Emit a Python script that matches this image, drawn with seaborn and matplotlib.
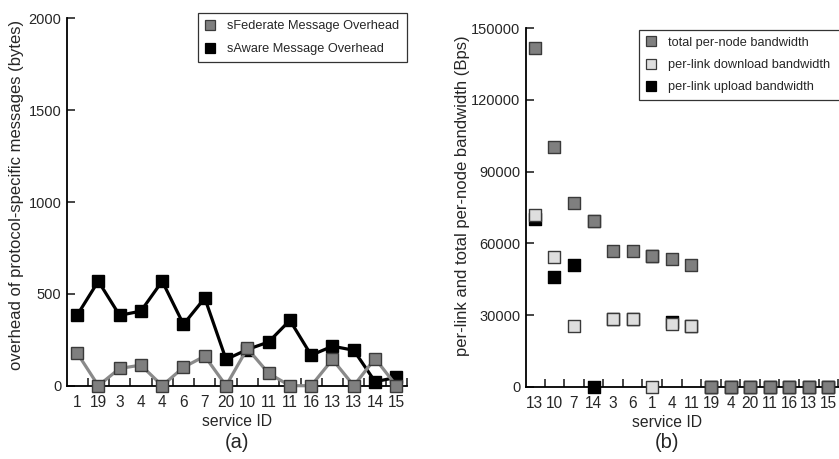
import numpy as np
import pandas as pd
import matplotlib
matplotlib.use("Agg")
import matplotlib.pyplot as plt
from matplotlib.lines import Line2D
import seaborn as sns

# (a) per-service protocol message overhead, bytes
ids_a = ["1", "19", "3", "4", "4", "6", "7", "20", "10", "11", "11", "16", "13", "13", "14", "15"]
sfederate = [179, 0, 94, 112, 0, 100, 161, 0, 203, 67, 0, 0, 143, 0, 148, 0]
saware = [383, 569, 383, 406, 569, 334, 477, 143, 197, 238, 356, 166, 215, 193, 22, 45]

# (b) bandwidth per service, Bps
ids_b = ["13", "10", "7", "14", "3", "6", "1", "4", "11", "19", "4", "20", "11", "16", "13", "15"]
total_bw = [141800, 100400, 76700, 69500, 56900, 56900, 54800, 53300, 50800, 0, 0, 0, 0, 0, 0, 0]
download_bw = [71700, 54100, 25500, 69500, 28500, 28500, 0, 26400, 25400, 0, 0, 0, 0, 0, 0, 0]
upload_bw = [70000, 46000, 50900, 0, 28400, 28400, 54800, 26900, 25400, 0, 0, 0, 0, 0, 0, 0]

sns.set_style("ticks")
plt.rcParams["font.family"] = ["Liberation Sans", "DejaVu Sans"]

GRAY = "#7f7f7f"
GRAY_LINE = "#8a8a8a"
LIGHT = "#dedede"
EDGE = "#3a3a3a"
XTICK_FS = 11.2
YTICK_FS = 10.5
LABEL_FS = 11.3
YLABEL_FS = 12

fig = plt.figure(figsize=(8.39, 4.59), dpi=100)
ax_a = fig.add_axes([0.0799, 0.1597, 0.4052, 0.8004])
ax_b = fig.add_axes([0.6270, 0.1575, 0.3766, 0.7808])


def style_axis(ax, n):
    for side in ("top", "right"):
        ax.spines[side].set_visible(False)
    for side in ("left", "bottom"):
        ax.spines[side].set_linewidth(1.3)
        ax.spines[side].set_color("black")
    ax.set_xticks(np.arange(n))
    ax.set_xticks(np.arange(n) + 0.5, minor=True)
    ax.tick_params(axis="x", which="major", length=0, pad=7, labelsize=XTICK_FS)
    ax.tick_params(axis="x", which="minor", direction="in", length=6, width=1.2)
    ax.tick_params(axis="y", direction="in", length=6, width=1.2, pad=4, labelsize=YTICK_FS)


def square_handle(face, edge):
    return Line2D([], [], linestyle="none", marker="s", markersize=7, markerfacecolor=face,
                  markeredgecolor=edge, markeredgewidth=0.9)


def boxed_legend(ax, handles, labels, anchor, spacing):
    leg = ax.legend(handles, labels, loc="upper left", bbox_to_anchor=anchor, mode="expand",
                    fontsize=9.2, frameon=True, fancybox=False, borderpad=0.55,
                    labelspacing=spacing, handlelength=0.8, handletextpad=0.9,
                    borderaxespad=0)
    leg.get_frame().set_edgecolor("black")
    leg.get_frame().set_linewidth(0.9)
    return leg


# ---- panel (a): line plot with square markers ----
df_a = pd.DataFrame({"pos": np.arange(len(ids_a)), "sAware": saware, "sFederate": sfederate})
sns.lineplot(data=df_a, x="pos", y="sAware", ax=ax_a, color="black", linewidth=2.3,
             marker="s", markersize=8.5, markerfacecolor="black", markeredgecolor="black",
             markeredgewidth=1.0, clip_on=False, zorder=3)
sns.lineplot(data=df_a, x="pos", y="sFederate", ax=ax_a, color=GRAY_LINE, linewidth=2.3,
             marker="s", markersize=8.5, markerfacecolor=GRAY, markeredgecolor=EDGE,
             markeredgewidth=1.0, clip_on=False, zorder=4)
style_axis(ax_a, len(ids_a))
ax_a.set_xticklabels(ids_a)
ax_a.set_xlim(-0.47, 15.5)
ax_a.set_ylim(0, 2000)
ax_a.set_yticks([0, 500, 1000, 1500, 2000])
ax_a.set_xlabel("service ID", fontsize=LABEL_FS)
ax_a.xaxis.set_label_coords(0.5, -0.077)
ax_a.set_ylabel("overhead of protocol-specific messages (bytes)", fontsize=YLABEL_FS)
ax_a.yaxis.set_label_coords(-0.128, 0.52)
boxed_legend(ax_a, [square_handle(GRAY, EDGE), square_handle("black", "black")],
             ["sFederate Message Overhead", "sAware Message Overhead"],
             (0.385, 1.014, 0.615, 0.0), 0.85)
fig.text(0.2825, 0.037, "(a)", ha="center", va="center", fontsize=14.5)

# ---- panel (b): scatter of squares ----
df_b = pd.DataFrame({"pos": np.arange(len(ids_b)), "total": total_bw,
                     "download": download_bw, "upload": upload_bw})
common = dict(marker="s", s=80, linewidth=1.0, clip_on=False, legend=False)
sns.scatterplot(data=df_b, x="pos", y="upload", ax=ax_b, color="black", edgecolor="black",
                zorder=3, **common)
sns.scatterplot(data=df_b, x="pos", y="download", ax=ax_b, color=LIGHT, edgecolor=EDGE,
                zorder=4, **common)
sns.scatterplot(data=df_b, x="pos", y="total", ax=ax_b, color=GRAY, edgecolor=EDGE,
                zorder=5, **common)
style_axis(ax_b, len(ids_b))
ax_b.set_xticklabels(ids_b)
ax_b.set_xlim(-0.45, 15.7)
ax_b.set_ylim(0, 150000)
ax_b.set_yticks([0, 30000, 60000, 90000, 120000, 150000])
ax_b.set_xlabel("service ID", fontsize=LABEL_FS)
ax_b.xaxis.set_label_coords(0.446, -0.079)
ax_b.set_ylabel("per-link and total per-node bandwidth (Bps)", fontsize=YLABEL_FS)
ax_b.yaxis.set_label_coords(-0.177, 0.533)
boxed_legend(ax_b,
             [square_handle(GRAY, EDGE), square_handle(LIGHT, EDGE),
              square_handle("black", "black")],
             ["total per-node bandwidth", "per-link download bandwidth",
              "per-link upload bandwidth"],
             (0.358, 0.996, 0.68, 0.0), 0.8)
fig.text(0.795, 0.037, "(b)", ha="center", va="center", fontsize=14.5)

fig.savefig("out.png", dpi=100)
